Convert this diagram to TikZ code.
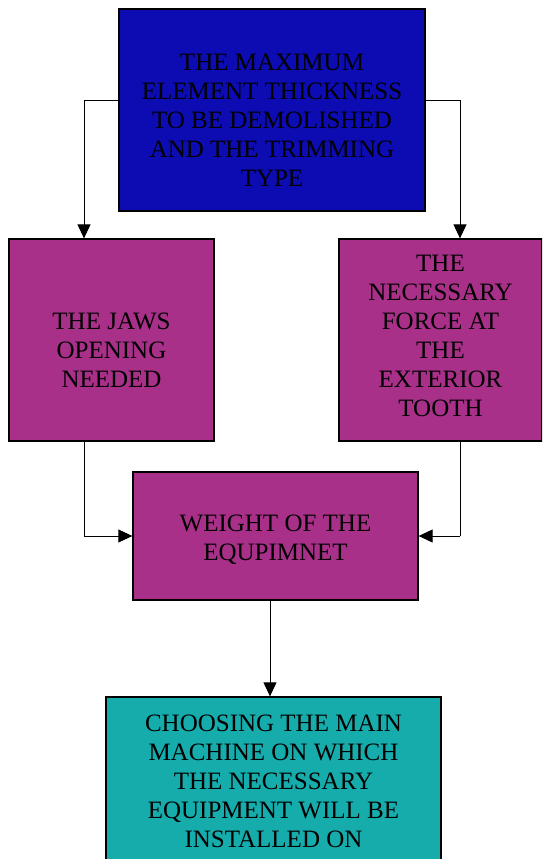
\documentclass[tikz,border=0pt]{standalone}
\usepackage{fontspec}
\setmainfont{Liberation Serif}
\usetikzlibrary{arrows.meta}
\definecolor{topblue}{RGB}{12,12,178}
\definecolor{midpink}{RGB}{168,48,136}
\definecolor{lowcyan}{RGB}{22,172,172}
\tikzset{
  box/.style={draw=black, line width=1.3pt, rectangle, inner sep=0pt},
  txt/.style={align=center, inner sep=0pt, font=\fontsize{25}{29}\selectfont},
  conn/.style={draw=black, line width=1pt, -{Triangle[length=14pt,width=13pt]}},
  plain/.style={draw=black, line width=1pt}
}
\begin{document}
\begin{tikzpicture}[x=1pt,y=-1pt]
\useasboundingbox (0,0) rectangle (542,859);
\clip (0,0) rectangle (542,859);
\node[box, fill=topblue, minimum width=306pt, minimum height=202pt] (top) at (272,110) {};
\node[txt] (topt) at (272,120) {THE MAXIMUM\\ELEMENT THICKNESS\\TO BE DEMOLISHED\\AND THE TRIMMING\\TYPE};
\node[box, fill=midpink, minimum width=205pt, minimum height=202pt] (left) at (111.5,340) {};
\node[txt] (leftt) at (111.5,350) {THE JAWS\\OPENING\\NEEDED};
\node[box, fill=midpink, minimum width=203pt, minimum height=202pt] (right) at (440.5,340) {};
\node[txt] (rightt) at (440.5,336) {THE\\NECESSARY\\FORCE AT\\THE\\EXTERIOR\\TOOTH};
\node[box, fill=midpink, minimum width=285pt, minimum height=128pt] (mid) at (275.5,536) {};
\node[txt] (midt) at (275.5,540) {WEIGHT OF THE\\EQUPIMNET};
\node[box, fill=lowcyan, minimum width=335pt, minimum height=170pt] (bot) at (273.5,782) {};
\node[txt] (bott) at (273.5,781) {CHOOSING THE MAIN\\MACHINE ON WHICH\\THE NECESSARY\\EQUIPMENT WILL BE\\INSTALLED ON};
\coordinate (tl) at (84,100);
\coordinate (tr) at (460,100);
\coordinate (ll) at (84,536);
\coordinate (rr) at (460,536);
\draw[plain] (top.west |- tl) -- (tl);
\draw[conn] (tl) -- (tl |- left.north);
\draw[plain] (top.east |- tr) -- (tr);
\draw[conn] (tr) -- (tr |- right.north);
\draw[plain] (left.south -| ll) -- (ll);
\draw[conn] (ll) -- (mid.west |- ll);
\draw[plain] (right.south -| rr) -- (rr);
\draw[conn] (rr) -- (mid.east |- rr);
\draw[conn] (mid.south -| 270,0) -- (bot.north -| 270,0);
\end{tikzpicture}
\end{document}
